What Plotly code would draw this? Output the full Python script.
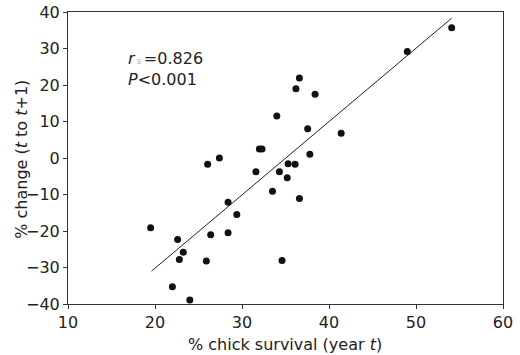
import plotly.graph_objects as go

# Data
survival = [19.5, 22.6, 23.25, 22.8, 22.0, 24.0, 26.05, 27.4, 25.9, 26.4, 28.4, 28.4,
            29.4, 31.6, 32.0, 32.3, 34.0, 33.5, 34.3, 35.3, 36.1, 35.2, 36.6, 34.6,
            37.55, 37.8, 36.6, 36.2, 38.4, 41.4, 49.0, 54.1]
change = [-19.1, -22.3, -25.8, -27.8, -35.3, -38.9, -1.7, 0.0, -28.2, -21.0, -12.1, -20.5,
          -15.5, -3.75, 2.5, 2.5, 11.5, -9.1, -3.8, -1.6, -1.7, -5.4, -11.1, -28.1,
          8.0, 1.0, 21.9, 19.0, 17.5, 6.8, 29.2, 35.7]
fit_x = [19.6, 54.1]
fit_y = [-31.0, 38.3]
x_ticks = [10, 20, 30, 40, 50, 60]
y_ticks = [-40, -30, -20, -10, 0, 10, 20, 30, 40]

font_family = "DejaVu Sans, Verdana, sans-serif"
txt_color = "#222222"
title_font = dict(family=font_family, size=16, color=txt_color)

fig = go.Figure()
fig.add_trace(go.Scatter(x=fit_x, y=fit_y, mode="lines",
                         line=dict(color="#222222", width=1), showlegend=False,
                         hoverinfo="skip"))
fig.add_trace(go.Scatter(x=survival, y=change, mode="markers",
                         marker=dict(color="#111111", size=7), showlegend=False))

fig.add_annotation(x=0.134, y=0.881, xref="paper", yref="paper", xanchor="left",
                   yanchor="top", align="left", showarrow=False,
                   text="<i>r</i><span style='font-size:8px;fill:#aaaaaa'> s </span>=0.826<br><i>P</i><0.001",
                   font=title_font)

# axis titles as annotations for exact placement
fig.add_annotation(x=0.498, y=-0.14, xref="paper", yref="paper", xanchor="center",
                   yanchor="middle", showarrow=False,
                   text="% chick survival (year <i>t</i>)", font=title_font)
fig.add_annotation(x=-0.106, y=0.497, xref="paper", yref="paper", xanchor="center",
                   yanchor="middle", showarrow=False, textangle=-90,
                   text="% change (<i>t</i> to <i>t</i>+1)", font=title_font)

axis_common = dict(showgrid=False, zeroline=False, showline=True, linecolor="#333333",
                   linewidth=1, mirror=True, ticks="outside", ticklen=4, tickwidth=1,
                   tickcolor="#333333", automargin=False,
                   tickfont=dict(family=font_family, size=16, color=txt_color))

fig.update_xaxes(range=[10, 60], tickvals=x_ticks, **axis_common)
fig.update_yaxes(range=[-40, 40], tickvals=y_ticks, **axis_common)

fig.update_layout(width=520, height=355, margin=dict(l=68, r=17, t=12, b=51),
                  plot_bgcolor="white", paper_bgcolor="white",
                  font=dict(family=font_family, color=txt_color))

fig.write_html("out.html", config={"displayModeBar": False},
               post_script="document.body.style.margin='0px';document.body.style.overflow='hidden';")
